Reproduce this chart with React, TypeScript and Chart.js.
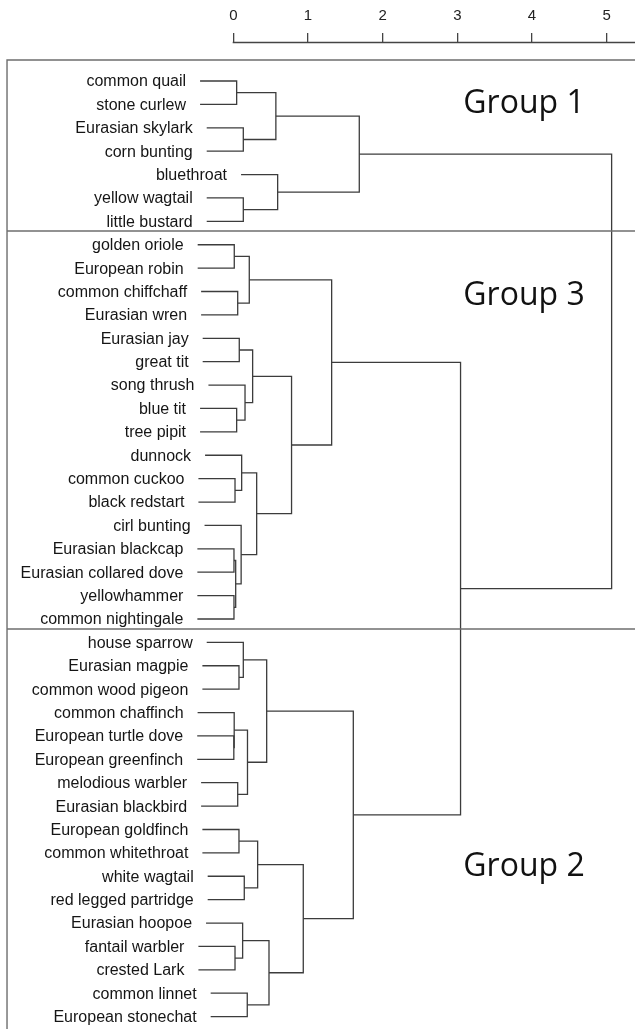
import React, { useEffect, useRef } from "react";
import { Chart, registerables } from "chart.js";

Chart.register(...registerables);

// ---------- data ----------
const leafNames: string[] = [
  "common quail",
  "stone curlew",
  "Eurasian skylark",
  "corn bunting",
  "bluethroat",
  "yellow wagtail",
  "little bustard",
  "golden oriole",
  "European robin",
  "common chiffchaff",
  "Eurasian wren",
  "Eurasian jay",
  "great tit",
  "song thrush",
  "blue tit",
  "tree pipit",
  "dunnock",
  "common cuckoo",
  "black redstart",
  "cirl bunting",
  "Eurasian blackcap",
  "Eurasian collared dove",
  "yellowhammer",
  "common nightingale",
  "house sparrow",
  "Eurasian magpie",
  "common wood pigeon",
  "common chaffinch",
  "European turtle dove",
  "European greenfinch",
  "melodious warbler",
  "Eurasian blackbird",
  "European goldfinch",
  "common whitethroat",
  "white wagtail",
  "red legged partridge",
  "Eurasian hoopoe",
  "fantail warbler",
  "crested Lark",
  "common linnet",
  "European stonechat",
];

// hclust-style merge table: negative = leaf (1-based), positive = earlier merge (1-based)
const mergeLeft: number[] = [
  -1, -3, 1, -6, -5, 3, -8, -10, 7, -12, -15, -14, 10, -18, -17, -21, -23, 16, -20, 15,
  13, 9, -26, -25, -29, -28, -31, 26, 24, -33, -35, 30, -38, -37, -40, 34, 32, 29, 22, 6,
];
const mergeRight: number[] = [
  -2, -4, 2, -7, 4, 5, -9, -11, 8, -13, -16, 11, 12, -19, 14, -22, -24, 17, 18, 19,
  20, 21, -27, 23, -30, 25, -32, 27, 28, -34, -36, 31, -39, 33, -41, 35, 36, 37, 38, 39,
];
const mergeHeight: number[] = [
  0.045, 0.134, 0.57, 0.134, 0.594, 1.687, 0.013, 0.059, 0.214, 0.08, 0.045, 0.157, 0.259,
  0.023, 0.112, 0.009, 0.009, 0.032, 0.105, 0.313, 0.78, 1.317, 0.076, 0.134, 0.007, 0.012,
  0.059, 0.19, 0.447, 0.076, 0.147, 0.326, 0.023, 0.125, 0.187, 0.478, 0.937, 1.607, 3.043,
  5.066,
];

const axisTicks: number[] = [0, 1, 2, 3, 4, 5];
const groupNames: string[] = ["Group 1", "Group 3", "Group 2"];

// ---------- layout constants ----------
const W = 635;
const H = 1029;
const HANG = 0.49;
const X_MIN = -3.124;
const X_MAX = 5.379;
const Y_MIN = -1.625;
const Y_MAX = 40.53;
const BOX_LEFT = -3.03;
const BOX_TOP = -0.898;
const SEPARATORS = [6.41, 23.43];
const GROUP_LABEL_X = 3.08;
const GROUP_LABEL_BASELINE = [1.38, 9.58, 33.99];

const LINE_COLOR = "#3c3c3c";
const BOX_COLOR = "#6e6e6e";

function buildTree() {
  const nodeY: number[] = [];
  const leafStart: number[] = new Array(leafNames.length).fill(0);
  const segments: { x: number; y: number }[][] = [];
  const child = (c: number, h: number) => {
    if (c < 0) {
      const i = -c - 1;
      leafStart[i] = h - HANG;
      return { x: h - HANG, y: i };
    }
    return { x: mergeHeight[c - 1], y: nodeY[c - 1] };
  };
  for (let k = 0; k < mergeHeight.length; k++) {
    const h = mergeHeight[k];
    const a = child(mergeLeft[k], h);
    const b = child(mergeRight[k], h);
    nodeY[k] = (a.y + b.y) / 2;
    segments.push([
      { x: a.x, y: a.y },
      { x: h, y: a.y },
      { x: h, y: b.y },
      { x: b.x, y: b.y },
    ]);
  }
  return { segments, leafStart };
}

export default function App() {
  const ref = useRef<HTMLCanvasElement | null>(null);

  useEffect(() => {
    if (!ref.current) return;
    const { segments, leafStart } = buildTree();

    const lineDs = (data: { x: number; y: number }[], color: string, width: number) => ({
      data,
      showLine: true,
      borderColor: color,
      borderWidth: width,
      pointRadius: 0,
      pointHoverRadius: 0,
      fill: false,
      tension: 0,
    });

    const datasets: any[] = [];
    datasets.push(
      lineDs(
        [
          { x: BOX_LEFT, y: Y_MAX + 1 },
          { x: BOX_LEFT, y: BOX_TOP },
          { x: X_MAX + 1, y: BOX_TOP },
        ],
        BOX_COLOR,
        1.4
      )
    );
    SEPARATORS.forEach((s) =>
      datasets.push(
        lineDs(
          [
            { x: BOX_LEFT, y: s },
            { x: X_MAX + 1, y: s },
          ],
          BOX_COLOR,
          1.4
        )
      )
    );
    segments.forEach((seg) => datasets.push(lineDs(seg, LINE_COLOR, 1.3)));

    const labelPlugin = {
      id: "dendroLabels",
      afterDatasetsDraw(chart: any) {
        const { ctx, scales } = chart;
        const x = scales.x;
        const y = scales.y;
        ctx.save();
        ctx.font = '16px "Liberation Sans", Arial, sans-serif';
        ctx.fillStyle = "#151515";
        ctx.textAlign = "right";
        ctx.textBaseline = "middle";
        leafNames.forEach((name, i) => {
          ctx.fillText(name, x.getPixelForValue(leafStart[i]) - 14, y.getPixelForValue(i) + 1);
        });
        ctx.font = '32px "Open Sans", "DejaVu Sans", sans-serif';
        ctx.fillStyle = "#111";
        ctx.textAlign = "left";
        ctx.textBaseline = "alphabetic";
        groupNames.forEach((g, i) => {
          ctx.fillText(g, x.getPixelForValue(GROUP_LABEL_X), y.getPixelForValue(GROUP_LABEL_BASELINE[i]));
        });
        // axis line from 0 to the right edge
        ctx.strokeStyle = "#444";
        ctx.lineWidth = 1.3;
        ctx.beginPath();
        const ay = chart.chartArea.top - 0.5;
        ctx.moveTo(x.getPixelForValue(0) - 0.6, ay);
        ctx.lineTo(chart.width, ay);
        ctx.stroke();
        ctx.restore();
      },
    };

    const chart = new Chart(ref.current, {
      type: "scatter",
      data: { datasets },
      options: {
        animation: false,
        responsive: false,
        devicePixelRatio: 1,
        layout: { padding: 0, autoPadding: false } as any,
        plugins: {
          legend: { display: false },
          tooltip: { enabled: false },
        },
        events: [],
        scales: {
          x: {
            type: "linear",
            position: "top",
            min: X_MIN,
            max: X_MAX,
            bounds: "data",
            afterBuildTicks: (s: any) => {
              s.ticks = axisTicks.map((v) => ({ value: v }));
            },
            afterFit: (s: any) => {
              s.height = 43;
            },
            grid: {
              display: true,
              drawOnChartArea: false,
              drawTicks: true,
              tickLength: 10,
              color: "#444",
              lineWidth: 1.3,
            },
            border: { display: false },
            ticks: {
              padding: 8,
              color: "#222",
              font: { family: '"Liberation Sans", Arial, sans-serif', size: 15 },
              callback: (v: any) => String(v),
              maxRotation: 0,
              autoSkip: false,
            },
          },
          y: {
            type: "linear",
            min: Y_MIN,
            max: Y_MAX,
            reverse: true,
            display: false,
          },
        },
      },
      plugins: [labelPlugin],
    } as any);

    return () => chart.destroy();
  }, []);

  return (
    <div style={{ position: "absolute", left: 0, top: 0, width: W, height: H, background: "#fff" }}>
      <canvas ref={ref} width={W} height={H} style={{ display: "block" }} />
    </div>
  );
}
